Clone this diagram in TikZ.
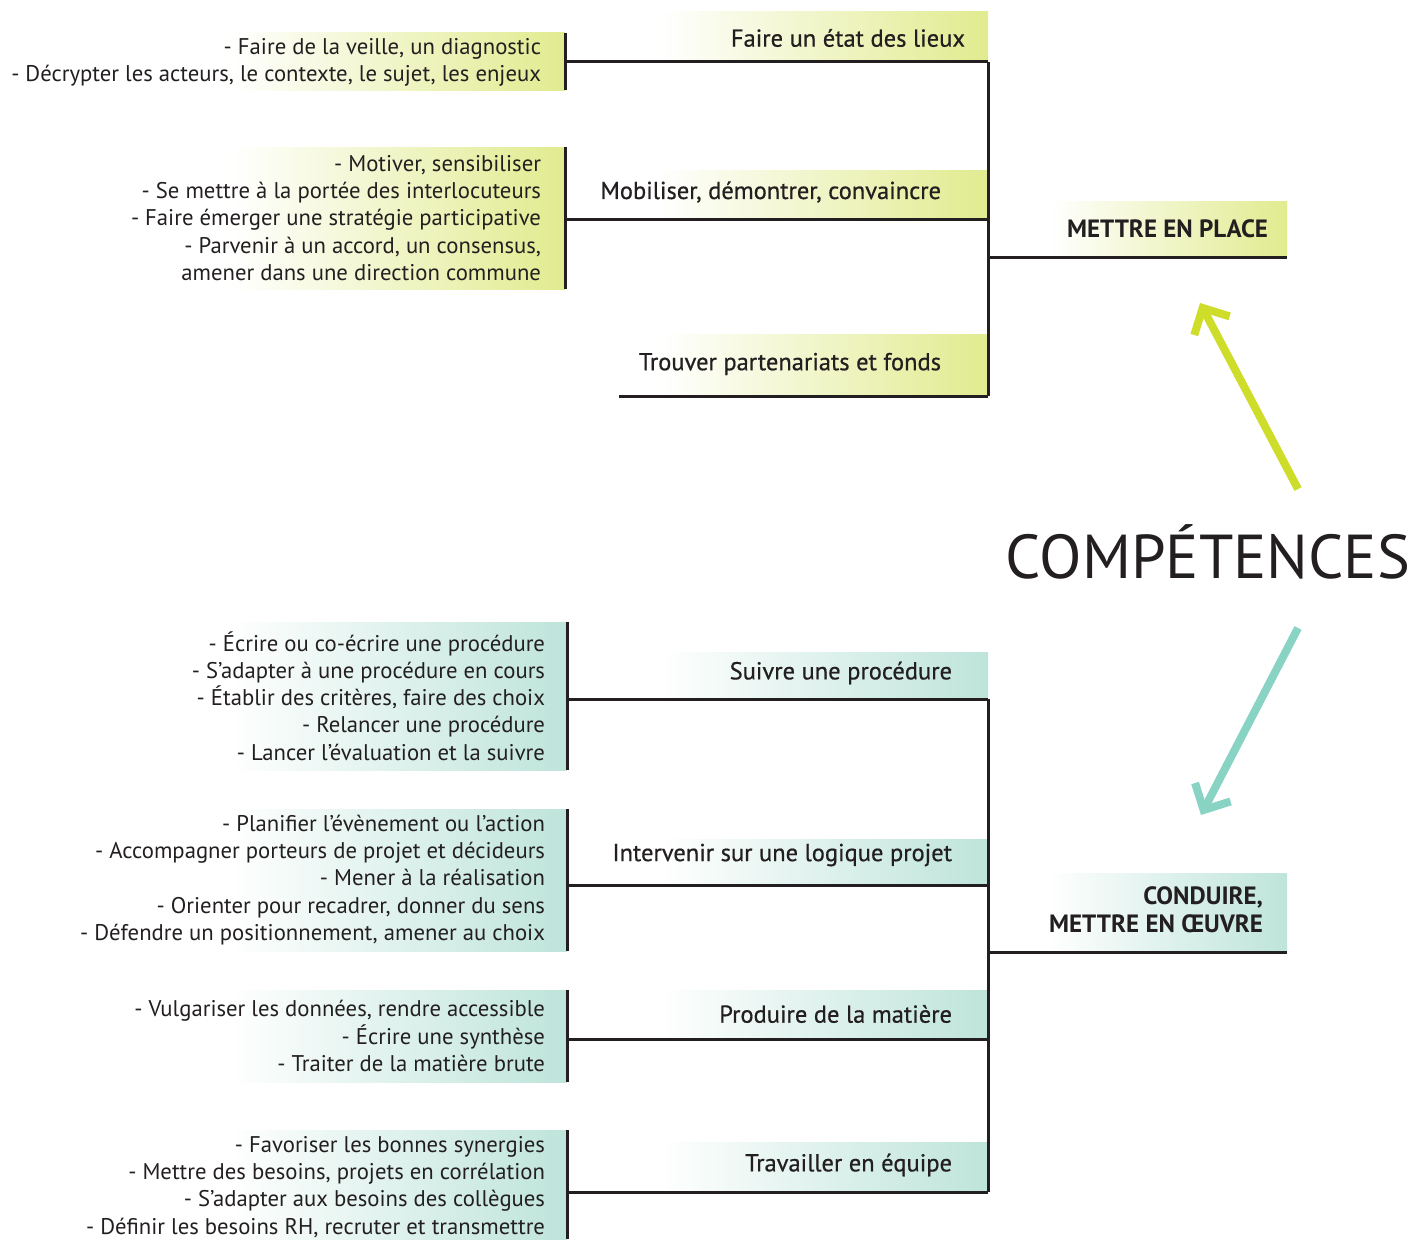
\documentclass[tikz,border=0pt]{standalone}
\usepackage{fontspec}
\setmainfont{PT Sans}
\usepackage{tikz}
\usetikzlibrary{arrows.meta}
\definecolor{inkDark}{HTML}{231F20}
\definecolor{limeSoft}{HTML}{E1EB8F}
\definecolor{tealSoft}{HTML}{BEE4DA}
\definecolor{limeArrow}{HTML}{CDDD2A}
\definecolor{tealArrow}{HTML}{88D3C4}

\begin{document}
\begin{tikzpicture}[
    x=1pt, y=-1pt,
    every node/.style={inner sep=0pt, outer sep=0pt, text=inkDark},
    limebox/.style={rectangle, draw=none, left color=white, right color=limeSoft},
    tealbox/.style={rectangle, draw=none, left color=white, right color=tealSoft},
    branchtext/.style={font=\fontsize{24.5}{29}\selectfont\addfontfeatures{FakeBold=0.6}},
    listtext/.style={align=right, font=\fontsize{22.7}{27.2}\selectfont},
    headtext/.style={align=right, font=\fontsize{25}{28}\selectfont\bfseries},
    link/.style={draw=inkDark, line width=3pt},
    barline/.style={draw=inkDark, line width=3pt},
    bigarrow/.style={line width=8pt, -{Straight Barb[length=20pt, width=40pt]}}
  ]
  \useasboundingbox (0,0) rectangle (1415,1239);

  % Mettre en place
  \node[limebox, minimum width=328, minimum height=50, anchor=north west] (etatbg) at (660,12) {};
  \node[branchtext, anchor=east] (etat) at (965,38) {Faire un état des lieux};
  \node[limebox, minimum width=335, minimum height=57, anchor=north east] (veillebg) at (565,33) {};
  \node[listtext, anchor=east] (veille) at (541,62.5) {- Faire de la veille, un diagnostic\\- Décrypter les acteurs, le contexte, le sujet, les enjeux};

  \node[limebox, minimum width=331, minimum height=49, anchor=north west] (mobbg) at (657,170) {};
  \node[branchtext, anchor=east] (mob) at (941,192) {Mobiliser, démontrer, convaincre};
  \node[limebox, minimum width=335, minimum height=142, anchor=north east] (motivbg) at (565,147) {};
  \node[listtext, anchor=east] (motiv) at (541,218) {- Motiver, sensibiliser\\- Se mettre à la portée des interlocuteurs\\- Faire émerger une stratégie participative\\- Parvenir à un accord, un consensus,\\amener dans une direction commune};

  \node[limebox, minimum width=328, minimum height=62, anchor=north west] (fondsbg) at (660,334) {};
  \node[branchtext, anchor=east] (fonds) at (941,364) {Trouver partenariats et fonds};

  \node[limebox, minimum width=237, minimum height=56, anchor=north west] (placebg) at (1050,201) {};
  \node[headtext, anchor=east] (place) at (1268,229) {METTRE EN PLACE};

  % Conduire, mettre en oeuvre
  \node[tealbox, minimum width=328, minimum height=47, anchor=north west] (suivrebg) at (660,652) {};
  \node[branchtext, anchor=east] (suivre) at (952,673) {Suivre une procédure};
  \node[tealbox, minimum width=337, minimum height=148, anchor=north east] (ecrirebg) at (567,622) {};
  \node[listtext, anchor=east] (ecrire) at (545,696) {- Écrire ou co-écrire une procédure\\- S’adapter à une procédure en cours\\- Établir des critères, faire des choix\\- Relancer une procédure\\- Lancer l’évaluation et la suivre};

  \node[tealbox, minimum width=328, minimum height=46, anchor=north west] (projetbg) at (660,839) {};
  \node[branchtext, anchor=east] (projet) at (952,855) {Intervenir sur une logique projet};
  \node[tealbox, minimum width=337, minimum height=142, anchor=north east] (planifbg) at (567,809) {};
  \node[listtext, anchor=east] (planif) at (545,880) {- Planifier l’évènement ou l’action\\- Accompagner porteurs de projet et décideurs\\- Mener à la réalisation\\- Orienter pour recadrer, donner du sens\\- Défendre un positionnement, amener au choix};

  \node[tealbox, minimum width=328, minimum height=49, anchor=north west] (matierebg) at (660,990) {};
  \node[branchtext, anchor=east] (matiere) at (952,1014) {Produire de la matière};
  \node[tealbox, minimum width=337, minimum height=92, anchor=north east] (vulgbg) at (567,990) {};
  \node[listtext, anchor=east] (vulg) at (545,1036) {- Vulgariser les données, rendre accessible\\- Écrire une synthèse\\- Traiter de la matière brute};

  \node[tealbox, minimum width=328, minimum height=50, anchor=north west] (equipebg) at (660,1142) {};
  \node[branchtext, anchor=east] (equipe) at (952,1165) {Travailler en équipe};
  \node[tealbox, minimum width=337, minimum height=109, anchor=north east] (synergbg) at (567,1130) {};
  \node[listtext, anchor=east] (synerg) at (545,1187) {- Favoriser les bonnes synergies\\- Mettre des besoins, projets en corrélation\\- S’adapter aux besoins des collègues\\- Définir les besoins RH, recruter et transmettre};

  \node[tealbox, minimum width=240, minimum height=79, anchor=north west] (oeuvrebg) at (1047,873) {};
  \node[headtext, anchor=east] (oeuvre) at (1263,910) {CONDUIRE,\\METTRE EN ŒUVRE};

  % Compétences
  \node[font=\fontsize{62}{70}\selectfont, anchor=base] (comp) at (1208,578) {COMPÉTENCES};
  \coordinate (upTail) at (1298,489);
  \coordinate (upTip) at (1200,303);
  \coordinate (downTail) at (1298,628);
  \coordinate (downTip) at (1201,815);

  % Lines
  \draw[barline] (veillebg.north east) -- (veillebg.south east);
  \draw[barline] (motivbg.north east) -- (motivbg.south east);
  \draw[link] (veillebg.east |- etatbg.south) -- (etatbg.south east);
  \draw[link] (motivbg.east |- mobbg.south) -- (mobbg.south east);
  \draw[link] ([xshift=-20pt]fonds.west |- fondsbg.south) -- (fondsbg.south east);
  \draw[link] (etatbg.south east) -- (fondsbg.south east);
  \draw[link] (fondsbg.east |- placebg.south) -- (placebg.south east);

  \draw[barline] (ecrirebg.north east) -- (ecrirebg.south east);
  \draw[barline] (planifbg.north east) -- (planifbg.south east);
  \draw[barline] (vulgbg.north east) -- (vulgbg.south east);
  \draw[barline] (synergbg.north east) -- (synergbg.south east);
  \draw[link] (ecrirebg.east |- suivrebg.south) -- (suivrebg.south east);
  \draw[link] (planifbg.east |- projetbg.south) -- (projetbg.south east);
  \draw[link] (vulgbg.east |- matierebg.south) -- (matierebg.south east);
  \draw[link] (synergbg.east |- equipebg.south) -- (equipebg.south east);
  \draw[link] (suivrebg.south east) -- (equipebg.south east);
  \draw[link] (equipebg.east |- oeuvrebg.south) -- (oeuvrebg.south east);

  % Arrows
  \draw[bigarrow, limeArrow] (upTail) -- (upTip);
  \draw[bigarrow, tealArrow] (downTail) -- (downTip);
\end{tikzpicture}
\end{document}
